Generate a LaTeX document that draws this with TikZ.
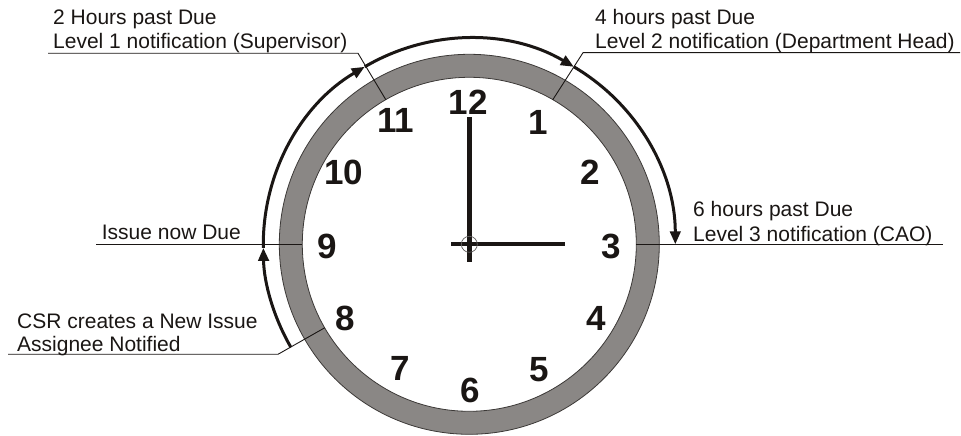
\documentclass[tikz,border=0pt]{standalone}
\usepackage{fontspec}
\setmainfont{Liberation Sans}
\usetikzlibrary{arrows.meta,calc}
\definecolor{ringgray}{RGB}{138,135,133}
\definecolor{ink}{RGB}{26,22,20}
\begin{document}
\begin{tikzpicture}[x=1pt,y=1pt,
 lbl/.style={anchor=base west, inner sep=0, font=\fontsize{21}{24}\selectfont, text=ink},
 num/.style={inner sep=0, font=\fontsize{35}{40}\selectfont\bfseries, text=ink},
 leader/.style={draw=ink, line width=0.9pt},
 cyc/.style={draw=ink, line width=3pt, -{Triangle[length=13pt,width=10.5pt]}},
 hand/.style={draw=ink, line width=4.5pt}]
\useasboundingbox (0,0) rectangle (961,436);
\coordinate (c) at (469.3,191.7);
% ring
\fill[ringgray, even odd rule] (c) circle[radius=190] (c) circle[radius=167];
\draw[ink!85, line width=0.8pt] (c) circle[radius=190] (c) circle[radius=167];
% points on inner circle
\coordinate (p11) at ($(c)+(120:167)$);
\coordinate (p1) at ($(c)+(60:167)$);
\coordinate (p3) at ($(c)+(0:167)$);
\coordinate (p9) at ($(c)+(180:167)$);
\coordinate (p8) at ($(c)+(210:167)$);
% numbers
\node[num] (n12) at (468.3,334) {12};
\node[num] (n1) at (538.3,313.7) {1};
\node[num] (n2) at (590.7,264) {2};
\node[num] (n3) at (611.7,189.7) {3};
\node[num] (n4) at (596,117.7) {4};
\node[num] (n5) at (539.7,66) {5};
\node[num] (n6) at (470.7,46) {6};
\node[num] (n7) at (400,67.7) {7};
\node[num] (n8) at (345,117.7) {8};
\node[num] (n9) at (327,189.7) {9};
\node[num] (n10) at (344,264) {10};
\node[num] (n11) at (395.7,315.3) {11};
% hands
\coordinate (ht) at (469.3,318.7);
\coordinate (hb) at (469.3,174.3);
\coordinate (hl) at (451,191.7);
\coordinate (hr) at (565,191.7);
\draw[hand] (hb) -- (ht);
\draw[draw=ink, line width=4pt] (hl) -- (hr);
\draw[ink!70, line width=0.7pt] (c) circle[radius=8];
% labels
\node[lbl] (a1) at (53,411) {2 Hours past Due};
\node[lbl] (a2) at (53,387) {Level 1 notification (Supervisor)};
\node[lbl] (b1) at (595,411) {4 hours past Due};
\node[lbl] (b2) at (595,387) {Level 2 notification (Department Head)};
\node[lbl] (d1) at (693,219.3) {6 hours past Due};
\node[lbl] (d2) at (693,194.6) {Level 3 notification (CAO)};
\node[lbl] (e1) at (101.7,196) {Issue now Due};
\node[lbl] (f1) at (17,107) {CSR creates a New Issue};
\node[lbl] (f2) at (17,84.3) {Assignee Notified};
% leader lines
\coordinate (a0) at (48,382.7);
\coordinate (ak) at (358,382.7);
\draw[leader] (a0) -- (ak) -- (p11);
\coordinate (b0) at (960,383.3);
\coordinate (bk) at (583,383.3);
\draw[leader] (b0) -- (bk) -- (p1);
\coordinate (d0) at (943,191.7);
\draw[leader] (p3) -- (d0);
\coordinate (e0) at (96,191.7);
\draw[leader] (e0) -- (p9);
\coordinate (f0) at (8,81.7);
\coordinate (fk) at (278,81.7);
\draw[leader] (f0) -- (fk) -- (p8);
% escalation arrows
\draw[cyc] ($(c)+(210:206)$) arc[start angle=210,end angle=181,radius=206];
\draw[cyc] ($(c)+(181:206)$) arc[start angle=181,end angle=120.5,radius=206];
\draw[cyc] ($(c)+(120.5:206)$) arc[start angle=120.5,end angle=59.5,radius=206];
\draw[cyc] ($(c)+(59.5:206)$) arc[start angle=59.5,end angle=0,radius=206];
\end{tikzpicture}
\end{document}
